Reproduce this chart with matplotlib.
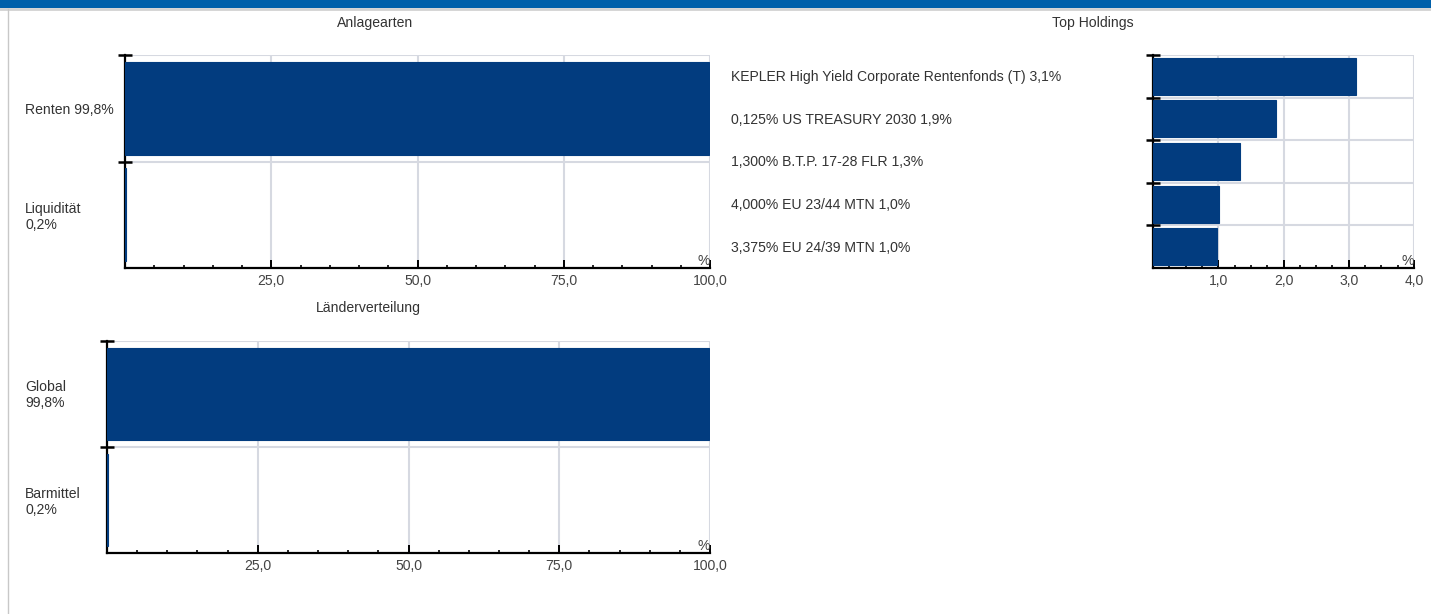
import matplotlib.pyplot as plt
from matplotlib.patches import Rectangle
from matplotlib.lines import Line2D
from matplotlib.ticker import MultipleLocator, FuncFormatter

# data
asset_labels = ["Renten 99,8%", "Liquidität\n0,2%"]
asset_values = [99.8, 0.2]

holding_labels = [
    "KEPLER High Yield Corporate Rentenfonds (T) 3,1%",
    "0,125% US TREASURY 2030 1,9%",
    "1,300% B.T.P. 17-28 FLR 1,3%",
    "4,000% EU 23/44 MTN 1,0%",
    "3,375% EU 24/39 MTN 1,0%",
]
holding_values = [3.11, 1.89, 1.33, 1.01, 0.98]

country_labels = ["Global\n99,8%", "Barmittel\n0,2%"]
country_values = [99.8, 0.2]

W, H = 1431, 614
BAR = "#023c7f"
GRID = "#d6d9e1"
TXT = "#333333"
FS = 10.1

plt.rcParams["font.family"] = ["Liberation Sans", "DejaVu Sans"]

fig = plt.figure(figsize=(W / 100, H / 100), dpi=100)
fig.patch.set_facecolor("white")

# header band and frame lines
fig.add_artist(Rectangle((0, 1 - 7.5 / H), 1, 7.5 / H, transform=fig.transFigure,
                         color="#0060aa", lw=0))
fig.add_artist(Line2D([0, 1], [1 - 9 / H, 1 - 9 / H], transform=fig.transFigure,
                      color="#d2d2d2", lw=2))
fig.add_artist(Line2D([7.5 / W, 7.5 / W], [0, 1 - 9 / H], transform=fig.transFigure,
                      color="#c8c8c8", lw=1))


def px_axes(x0, y0, x1, y1):
    return fig.add_axes([x0 / W, 1 - y1 / H, (x1 - x0) / W, (y1 - y0) / H])


def comma(v, pos):
    return f"{v:.1f}".replace(".", ",")


def bar_panel(ax, values, xmax, major, minor):
    n = len(values)
    ypos = [i + 0.5 for i in range(n)]
    ax.barh(ypos, values, height=0.87, color=BAR, edgecolor=BAR, lw=0.8, zorder=5)
    ax.set_ylim(n, 0)
    ax.set_xlim(0, xmax)
    ax.set_yticks(range(n))
    ax.set_yticklabels([])
    ax.xaxis.set_major_locator(MultipleLocator(major))
    ax.xaxis.set_minor_locator(MultipleLocator(minor))
    ax.xaxis.set_major_formatter(FuncFormatter(lambda v, p: "" if v == 0 else comma(v, p)))
    ax.grid(True, color=GRID, lw=1.5, zorder=0)
    for s in ["top", "right"]:
        ax.spines[s].set_visible(False)
    for s in ["left", "bottom"]:
        ax.spines[s].set_linewidth(1.6)
        ax.spines[s].set_zorder(4)
    ax.tick_params(axis="y", direction="inout", length=10, width=1.8, left=True)
    ax.tick_params(axis="x", which="major", direction="in", length=6, width=1.4,
                   labelsize=FS, labelcolor="#444444", pad=4)
    ax.tick_params(axis="x", which="minor", direction="in", length=2.5, width=1.2)
    ax.text(1.0, 0.0, "%", transform=ax.transAxes, ha="right", va="bottom",
            fontsize=FS, color="#444444")


# Anlagearten
ax1 = px_axes(125, 55, 710, 268)
bar_panel(ax1, asset_values, 100, 25, 5)
fig.text(375 / W, 1 - 23 / H, "Anlagearten", ha="center", va="center", fontsize=FS, color=TXT)
for lab, yc in zip(asset_labels, [110, 217]):
    fig.text(25 / W, 1 - yc / H, lab, ha="left", va="center", fontsize=FS, color=TXT,
             linespacing=1.15)

# Top Holdings
ax2 = px_axes(1153, 55, 1414, 268)
bar_panel(ax2, holding_values, 4, 1, 0.25)
fig.text(1093 / W, 1 - 23 / H, "Top Holdings", ha="center", va="center", fontsize=FS, color=TXT)
for i, lab in enumerate(holding_labels):
    yc = 55 + (i + 0.5) * (268 - 55) / len(holding_labels)
    fig.text(731 / W, 1 - (yc + 1) / H, lab, ha="left", va="center", fontsize=FS, color=TXT)

# Länderverteilung
ax3 = px_axes(107, 341, 710, 553)
bar_panel(ax3, country_values, 100, 25, 5)
fig.text(368 / W, 1 - 308 / H, "Länderverteilung", ha="center", va="center", fontsize=FS, color=TXT)
for lab, yc in zip(country_labels, [395, 502]):
    fig.text(25 / W, 1 - yc / H, lab, ha="left", va="center", fontsize=FS, color=TXT,
             linespacing=1.15)

fig.savefig("out.png", dpi=100)
